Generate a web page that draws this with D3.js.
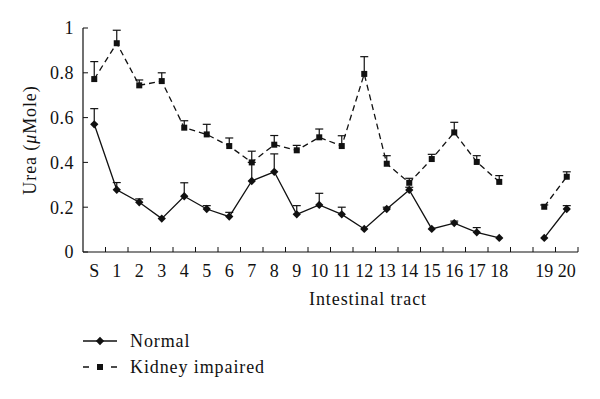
<!DOCTYPE html>
<html>
<head>
<meta charset="utf-8">
<script src="https://cdn.jsdelivr.net/npm/d3@7"></script>
<style>
  body { margin: 0; background: #fff; }
  text { font-family: "Liberation Serif", "DejaVu Serif", serif; fill: #111; letter-spacing: 0.5px; }
</style>
</head>
<body>
<svg id="chart" width="600" height="399"></svg>
<script>
// categories along the intestinal tract (blank slot between 18 and 19)
const sites = ["S", "1", "2", "3", "4", "5", "6", "7", "8", "9", "10",
  "11", "12", "13", "14", "15", "16", "17", "18", "gap", "19", "20"];

const normalMean = [0.57, 0.278, 0.222, 0.149, 0.249, 0.192, 0.158, 0.317, 0.358, 0.168, 0.21,
  0.168, 0.103, 0.192, 0.277, 0.103, 0.129, 0.088, 0.063, null, 0.063, 0.192];
const normalErr = [0.07, 0.032, 0.015, 0, 0.06, 0.015, 0.019, 0.083, 0.08, 0.039, 0.052,
  0.032, 0, 0.008, 0.012, 0, 0.009, 0.021, 0, null, 0, 0.015];

const kidneyMean = [0.772, 0.932, 0.744, 0.763, 0.555, 0.525, 0.473, 0.40, 0.479, 0.454, 0.512,
  0.473, 0.795, 0.394, 0.309, 0.415, 0.534, 0.402, 0.313, null, 0.202, 0.336];
const kidneyErr = [0.078, 0.058, 0.024, 0.037, 0.031, 0.045, 0.036, 0.05, 0.041, 0.022, 0.037,
  0.046, 0.077, 0.036, 0.02, 0.021, 0.045, 0.028, 0.028, null, 0.008, 0.022];

const yTicks = [0, 0.2, 0.4, 0.6, 0.8, 1];

const svg = d3.select("#chart");
const margin = { left: 83, right: 22, top: 28, bottom: 147 };
const width = 600 - margin.left - margin.right;
const height = 399 - margin.top - margin.bottom;

const g = svg.append("g").attr("transform", `translate(${margin.left},${margin.top})`);

const x = d3.scaleBand().domain(sites).range([0, width]);
const y = d3.scaleLinear().domain([0, 1]).range([height, 0]);
const cx = (s) => x(s) + x.bandwidth() / 2;

// axes
const xAxis = g.append("g").attr("transform", `translate(0,${height})`);
xAxis.append("line").attr("x1", 0).attr("x2", width).attr("stroke", "#111").attr("stroke-width", 1.2);
xAxis.selectAll(".tk")
  .data(sites.map((s) => x(s) + x.bandwidth()))
  .join("line")
  .attr("x1", (d) => d).attr("x2", (d) => d)
  .attr("y1", 0).attr("y2", -5)
  .attr("stroke", "#111");
xAxis.selectAll(".lbl")
  .data(sites.filter((s) => s !== "gap"))
  .join("text")
  .attr("x", (d) => cx(d))
  .attr("y", 25)
  .attr("text-anchor", "middle")
  .attr("font-size", 18)
  .style("letter-spacing", "0px")
  .text((d) => d);

const yAxis = g.append("g");
yAxis.append("line").attr("y1", 0).attr("y2", height).attr("stroke", "#111").attr("stroke-width", 1.2);
yAxis.selectAll(".tk")
  .data(yTicks)
  .join("line")
  .attr("x1", 0).attr("x2", 5)
  .attr("y1", (d) => y(d)).attr("y2", (d) => y(d))
  .attr("stroke", "#111");
yAxis.selectAll(".lbl")
  .data(yTicks)
  .join("text")
  .attr("x", -9)
  .attr("y", (d) => y(d))
  .attr("dy", "0.35em")
  .attr("text-anchor", "end")
  .attr("font-size", 18)
  .text((d) => d);

// axis titles
svg.append("text")
  .attr("transform", "translate(36,140) rotate(-90)")
  .attr("text-anchor", "middle")
  .attr("font-size", 18)
  .style("letter-spacing", "0.9px")
  .html('Urea (<tspan font-style="italic">μ</tspan>Mole)');

svg.append("text")
  .attr("x", 368)
  .attr("y", 305)
  .attr("text-anchor", "middle")
  .attr("font-size", 18)
  .style("letter-spacing", "0.9px")
  .text("Intestinal tract");

// series
const series = [
  { name: "Normal", mean: normalMean, err: normalErr, dash: null, shape: d3.symbolDiamond2, size: 44 },
  { name: "Kidney impaired", mean: kidneyMean, err: kidneyErr, dash: "6,4", shape: d3.symbolSquare2, size: 46 }
];

series.forEach((s) => {
  const pts = sites.map((site, i) => ({ site, v: s.mean[i], e: s.err[i] }));
  const line = d3.line()
    .defined((d) => d.v !== null)
    .x((d) => cx(d.site))
    .y((d) => y(d.v));

  g.append("path")
    .datum(pts)
    .attr("fill", "none")
    .attr("stroke", "#111")
    .attr("stroke-width", 1.3)
    .attr("stroke-dasharray", s.dash)
    .attr("d", line);

  const valid = pts.filter((d) => d.v !== null && d.e > 0);
  g.selectAll(null).data(valid).join("line")
    .attr("x1", (d) => cx(d.site)).attr("x2", (d) => cx(d.site))
    .attr("y1", (d) => y(d.v)).attr("y2", (d) => y(d.v + d.e))
    .attr("stroke", "#111").attr("stroke-width", 1.2);
  g.selectAll(null).data(valid).join("line")
    .attr("x1", (d) => cx(d.site) - 4).attr("x2", (d) => cx(d.site) + 4)
    .attr("y1", (d) => y(d.v + d.e)).attr("y2", (d) => y(d.v + d.e))
    .attr("stroke", "#111").attr("stroke-width", 1.2);

  g.selectAll(null).data(pts.filter((d) => d.v !== null)).join("path")
    .attr("transform", (d) => `translate(${cx(d.site)},${y(d.v)})`)
    .attr("d", d3.symbol().type(s.shape).size(s.size))
    .attr("fill", "#111");
});

// legend
const legend = svg.append("g").attr("transform", "translate(83,341)");
series.forEach((s, i) => {
  const row = legend.append("g").attr("transform", `translate(0,${i * 26})`);
  row.append("line")
    .attr("x1", 0).attr("x2", 34)
    .attr("stroke", "#111").attr("stroke-width", 1.3)
    .attr("stroke-dasharray", s.dash ? "6,8" : null);
  row.append("path")
    .attr("transform", "translate(17,0)")
    .attr("d", d3.symbol().type(s.shape).size(s.size))
    .attr("fill", "#111");
  row.append("text")
    .attr("x", 47)
    .attr("dy", "0.35em")
    .attr("font-size", 18)
    .style("letter-spacing", "0.9px")
    .text(s.name);
});
</script>
</body>
</html>
